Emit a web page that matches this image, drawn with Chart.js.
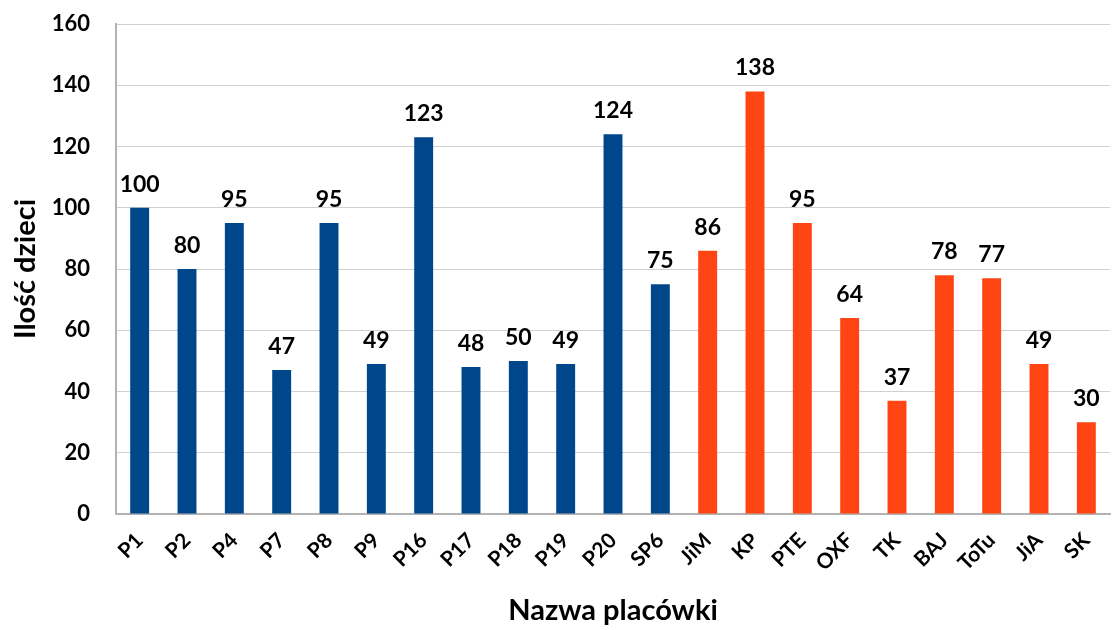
<!DOCTYPE html>
<html>
<head>
<meta charset="utf-8">
<script src="https://cdn.jsdelivr.net/npm/chart.js@4/dist/chart.umd.min.js"></script>
<style>
  html, body { margin: 0; padding: 0; background: #fff; }
  #wrap { width: 1113px; height: 630px; position: relative; }
</style>
</head>
<body>
<div id="wrap"><canvas id="chart"></canvas></div>
<script>
const labels = ['P1', 'P2', 'P4', 'P7', 'P8', 'P9', 'P16', 'P17', 'P18', 'P19', 'P20', 'SP6',
  'JiM', 'KP', 'PTE', 'OXF', 'TK', 'BAJ', 'ToTu', 'JiA', 'SK'];
const counts = [100, 80, 95, 47, 95, 49, 123, 48, 50, 49, 124, 75,
  86, 138, 95, 64, 37, 78, 77, 49, 30];
// 0 = blue group (P*), 1 = orange group
const groups = [0, 0, 0, 0, 0, 0, 0, 0, 0, 0, 0, 0, 1, 1, 1, 1, 1, 1, 1, 1, 1];
const groupColors = ['#00468B', '#FF4513'];
const yTicks = [0, 20, 40, 60, 80, 100, 120, 140, 160];

const FONT = 'Lato, "Open Sans", sans-serif';

const valueLabels = {
  id: 'valueLabels',
  afterDatasetsDraw(chart) {
    const { ctx } = chart;
    const meta = chart.getDatasetMeta(0);
    ctx.save();
    ctx.font = `bold 23px ${FONT}`;
    ctx.fillStyle = '#000';
    ctx.textAlign = 'center';
    ctx.textBaseline = 'alphabetic';
    meta.data.forEach((bar, i) => {
      ctx.fillText(String(counts[i]), bar.x, bar.y - 16);
    });
    ctx.restore();
  },
};

new Chart(document.getElementById('chart'), {
  type: 'bar',
  data: {
    labels,
    datasets: [{
      data: counts,
      backgroundColor: groups.map((g) => groupColors[g]),
      barPercentage: 0.4,
      categoryPercentage: 1,
    }],
  },
  options: {
    responsive: true,
    maintainAspectRatio: false,
    animation: false,
    layout: { padding: { top: 24, right: 3, left: 0, bottom: 0 } },
    plugins: {
      legend: { display: false },
      tooltip: { enabled: false },
    },
    scales: {
      x: {
        grid: { display: false },
        border: { color: '#b3b3b3', width: 2 },
        ticks: {
          color: '#000',
          font: { family: FONT, size: 21, weight: 'bold' },
          minRotation: 45,
          maxRotation: 45,
          padding: 6,
        },
        title: {
          display: true,
          text: 'Nazwa placówki',
          color: '#000',
          font: { family: FONT, size: 29, weight: 'bold' },
          padding: { top: 16, bottom: 2 },
        },
        afterFit(scale) {
          scale.height = 116;
          scale.paddingLeft = 0;
          scale.paddingRight = 0;
        },
      },
      y: {
        min: 0,
        max: 160,
        afterBuildTicks(scale) { scale.ticks = yTicks.map((v) => ({ value: v })); },
        grid: { color: '#d0d0d0', lineWidth: 1, drawTicks: false },
        border: { color: '#b3b3b3', width: 2 },
        ticks: {
          color: '#000',
          font: { family: FONT, size: 22, weight: 'bold' },
          padding: 26,
        },
        title: {
          display: true,
          text: 'Ilość dzieci',
          color: '#000',
          font: { family: FONT, size: 29, weight: 'bold' },
          padding: { top: 8, bottom: 0 },
        },
        afterFit(scale) {
          scale.width = 116;
          scale.paddingTop = 0;
          scale.paddingBottom = 0;
        },
      },
    },
  },
  plugins: [valueLabels],
});
</script>
</body>
</html>
